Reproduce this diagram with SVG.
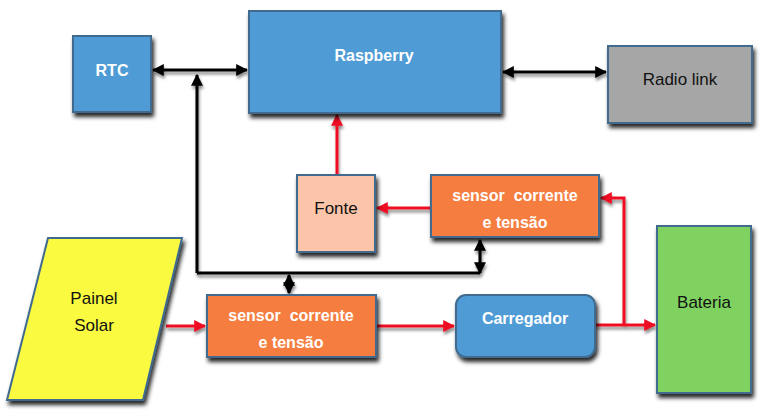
<svg xmlns="http://www.w3.org/2000/svg" width="767" height="414" viewBox="0 0 767 414">
<defs>
<style>
.box{stroke:#3f6b8e;stroke-width:2}
.blue{fill:#4f9bd5}
.t{font-family:"Liberation Sans",Arial,sans-serif;font-size:17px;text-anchor:middle;dominant-baseline:central;white-space:pre}
.w{fill:#ffffff;font-weight:bold;font-size:16px}
.k{fill:#111111}
.bl{fill:none;stroke:#000;stroke-width:3}
.rd{fill:none;stroke:#ee1122;stroke-width:3}
</style>
<filter id="sh" x="-20%" y="-20%" width="140%" height="150%">
<feDropShadow dx="2" dy="4" stdDeviation="2" flood-color="#000" flood-opacity="0.85"/>
</filter>
<filter id="ls" x="-20%" y="-20%" width="140%" height="140%">
<feDropShadow dx="1" dy="3" stdDeviation="1.5" flood-color="#000" flood-opacity="0.45"/>
</filter>
<marker id="ab" viewBox="0 0 10 10" refX="9" refY="5" markerWidth="4" markerHeight="4" orient="auto-start-reverse" markerUnits="strokeWidth">
<path d="M0,0 L10,5 L0,10 z" fill="#000"/>
</marker>
<marker id="ar" viewBox="0 0 10 10" refX="9" refY="5" markerWidth="4" markerHeight="4" orient="auto-start-reverse" markerUnits="strokeWidth">
<path d="M0,0 L10,5 L0,10 z" fill="#ee1122"/>
</marker>
</defs>
<rect width="767" height="414" fill="#fff"/>
<g id="connectors" filter="url(#ls)">
<line class="bl" x1="153" y1="70" x2="247" y2="70" marker-start="url(#ab)" marker-end="url(#ab)"/>
<path class="bl" d="M197,273 L197,75" marker-end="url(#ab)"/>
<path class="bl" d="M197,273 L480,273"/>
<line class="bl" x1="480" y1="273" x2="480" y2="240" marker-end="url(#ab)" marker-start="url(#ab)"/>
<line class="bl" x1="289" y1="275" x2="289" y2="293" marker-start="url(#ab)" marker-end="url(#ab)"/>
<line class="bl" x1="503" y1="72" x2="606" y2="72" marker-start="url(#ab)" marker-end="url(#ab)"/>
<line class="rd" x1="337" y1="175" x2="337" y2="115" marker-end="url(#ar)"/>
<line class="rd" x1="431" y1="208" x2="377" y2="208" marker-end="url(#ar)"/>
<path class="rd" d="M624,325 L624,198 L601,198" marker-end="url(#ar)"/>
<line class="rd" x1="166" y1="326" x2="205" y2="326" marker-end="url(#ar)"/>
<line class="rd" x1="376" y1="326" x2="454" y2="326" marker-end="url(#ar)"/>
<line class="rd" x1="595" y1="325" x2="655" y2="325" marker-end="url(#ar)"/>
</g>
<g id="rtc">
<rect class="box blue" x="73" y="36" width="78" height="76" filter="url(#sh)"/>
<text class="t w" x="112" y="70">RTC</text>
</g>
<g id="raspberry">
<rect class="box blue" x="249" y="11" width="252" height="102" filter="url(#sh)"/>
<text class="t w" x="374" y="55">Raspberry</text>
</g>
<g id="radio">
<rect class="box" fill="#a6a6a6" x="608" y="46" width="144" height="77" filter="url(#sh)"/>
<text class="t k" x="680" y="79">Radio link</text>
</g>
<g id="fonte">
<rect class="box" fill="#fcc5aa" x="297" y="175" width="78" height="77" filter="url(#sh)"/>
<text class="t k" x="336" y="208">Fonte</text>
</g>
<g id="sensor2">
<rect class="box" fill="#f67d3f" x="431" y="175" width="168" height="62" filter="url(#sh)"/>
<text class="t w" x="515" y="195">sensor  corrente</text>
<text class="t w" x="515" y="222">e tensão</text>
</g>
<g id="painel">
<path class="box" fill="#fafa3f" d="M48,238 L182,238 L143,400 L7,400 z" filter="url(#sh)"/>
<text class="t k" x="94" y="298">Painel</text>
<text class="t k" x="94" y="325">Solar</text>
</g>
<g id="sensor1">
<rect class="box" fill="#f67d3f" x="207" y="295" width="169" height="62" filter="url(#sh)"/>
<text class="t w" x="291" y="315">sensor  corrente</text>
<text class="t w" x="291" y="342">e tensão</text>
</g>
<g id="carregador">
<rect class="box blue" x="456" y="295" width="139" height="62" rx="10" filter="url(#sh)"/>
<text class="t w" x="525" y="318">Carregador</text>
</g>
<g id="bateria">
<rect class="box" fill="#7fd160" x="657" y="226" width="94" height="167" filter="url(#sh)"/>
<text class="t k" x="704" y="302">Bateria</text>
</g>
</svg>
